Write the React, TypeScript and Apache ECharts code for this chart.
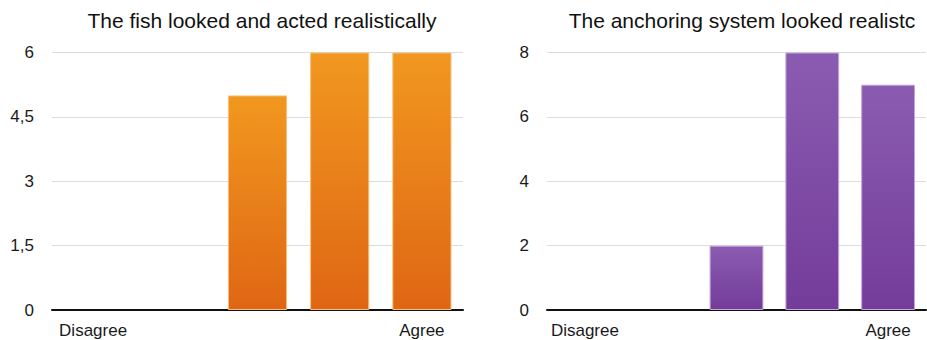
import React, { useEffect, useRef } from "react";
import * as echarts from "echarts";

const categories = ["Disagree", "", "", "", "Agree"];
const fishTitle = "The fish looked and acted realistically";
const fishValues = [0, 0, 5, 6, 6];
const fishTicks = { min: 0, max: 6, interval: 1.5 };
const anchorTitle = "The anchoring system looked realistc";
const anchorValues = [0, 0, 2, 8, 7];
const anchorTicks = { min: 0, max: 8, interval: 2 };

const FONT = "'Liberation Sans', Arial, Helvetica, sans-serif";

const grad = (top: string, bottom: string) =>
  new echarts.graphic.LinearGradient(0, 0, 0, 1, [
    { offset: 0, color: top },
    { offset: 1, color: bottom },
  ]);

// empty categories get no outline so nothing shows on the baseline
const toBarData = (values: number[]) =>
  values.map((v) => (v === 0 ? { value: v, itemStyle: { borderWidth: 0, opacity: 0 } } : v));

export default function App() {
  const ref = useRef<HTMLDivElement>(null);

  useEffect(() => {
    document.body.style.margin = "0";
    const chart = echarts.init(ref.current!, null, { renderer: "svg" });

    const xAxisBase = {
      type: "category" as const,
      data: categories,
      axisTick: { show: false },
      axisLine: { show: true, lineStyle: { color: "#111", width: 2 } },
      axisLabel: {
        interval: 0,
        color: "#1a1a1a",
        fontSize: 17,
        fontFamily: FONT,
        margin: 12,
      },
    };
    const yAxisBase = {
      type: "value" as const,
      axisLine: { show: false },
      axisTick: { show: false },
      splitLine: { lineStyle: { color: "#dcdcdc", width: 1 } },
      axisLabel: {
        color: "#1a1a1a",
        fontSize: 17,
        fontFamily: FONT,
        margin: 18,
        formatter: (v: number) => String(v).replace(".", ","),
      },
    };

    chart.setOption({
      animation: false,
      backgroundColor: "#ffffff",
      title: [
        {
          text: fishTitle,
          left: 257,
          textAlign: "center",
          top: 5,
          textStyle: { fontSize: 21, fontWeight: "normal", color: "#111", fontFamily: FONT },
        },
        {
          text: anchorTitle,
          left: 737,
          textAlign: "center",
          top: 5,
          textStyle: { fontSize: 21, fontWeight: "normal", color: "#111", fontFamily: FONT },
        },
      ],
      grid: [
        { left: 52, right: 464, top: 52.5, bottom: 30 },
        { left: 547, right: 1, top: 52.5, bottom: 30 },
      ],
      xAxis: [
        { ...xAxisBase, gridIndex: 0 },
        { ...xAxisBase, gridIndex: 1 },
      ],
      yAxis: [
        { ...yAxisBase, gridIndex: 0, ...fishTicks },
        { ...yAxisBase, gridIndex: 1, ...anchorTicks },
      ],
      series: [
        {
          type: "bar",
          xAxisIndex: 0,
          yAxisIndex: 0,
          data: toBarData(fishValues),
          barWidth: "72%",
          itemStyle: {
            color: grad("#f1981f", "#df6614"),
            borderColor: "#f6c07c",
            borderWidth: 1,
          },
        },
        {
          type: "bar",
          xAxisIndex: 1,
          yAxisIndex: 1,
          data: toBarData(anchorValues),
          barWidth: "71%",
          itemStyle: {
            color: grad("#8a5cb1", "#743c99"),
            borderColor: "#c4a6dc",
            borderWidth: 1,
          },
        },
      ],
    });

    return () => chart.dispose();
  }, []);

  return (
    <div
      ref={ref}
      style={{ position: "absolute", left: 0, top: 0, width: 927, height: 340 }}
    />
  );
}
